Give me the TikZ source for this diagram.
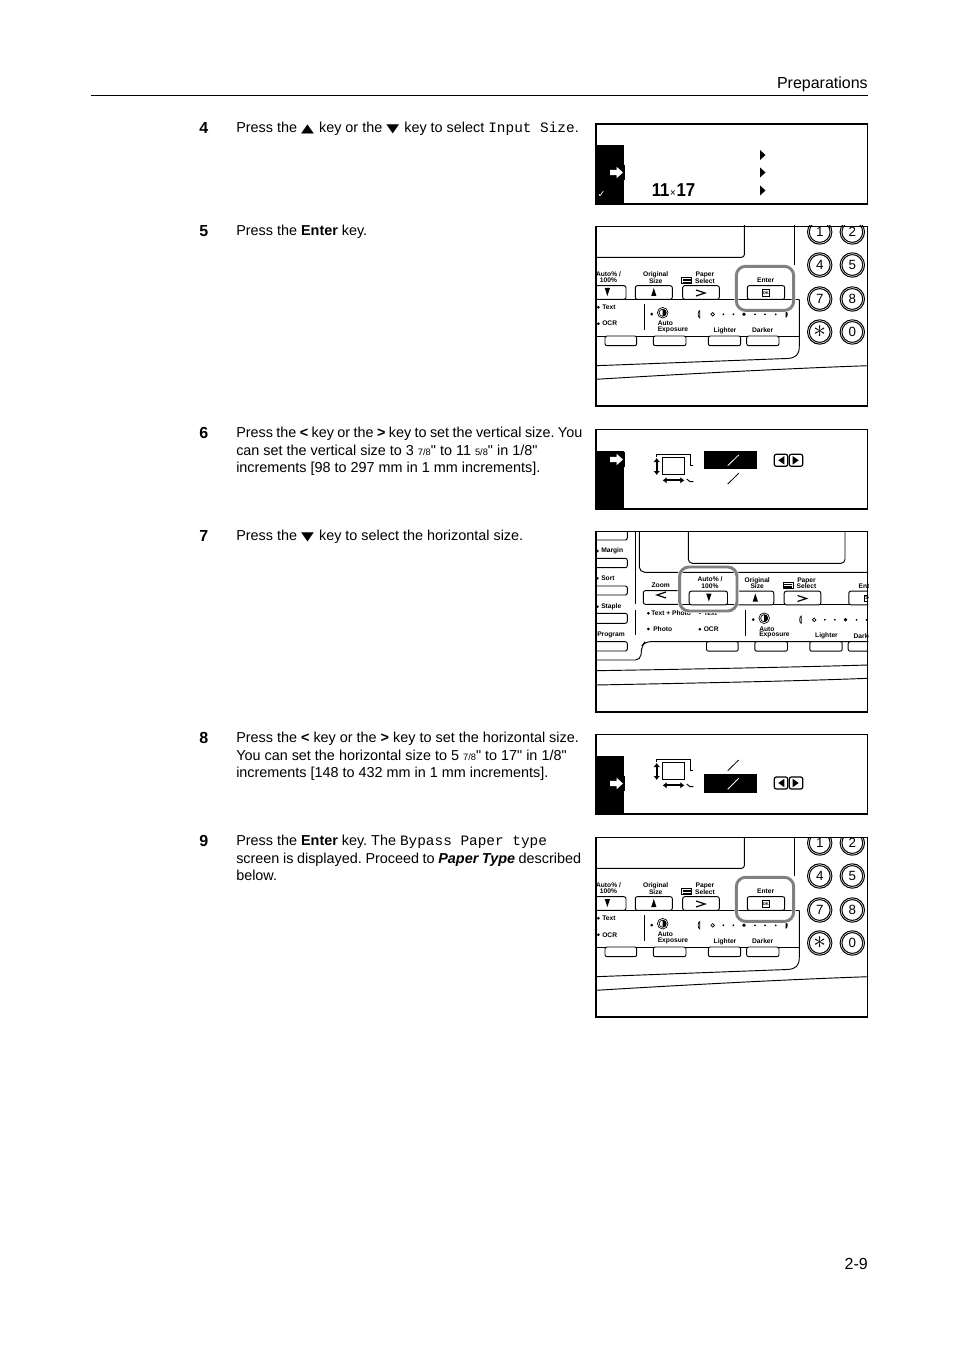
\documentclass[tikz,border=0pt]{standalone}
\usepackage{fontspec}
\usepackage{graphicx}
\setmainfont{Liberation Sans}
\setmonofont{Liberation Mono}
\newfontfamily\symbolfont{DejaVu Sans}
\newfontfamily\inchfont{Liberation Sans}
\newcommand{\upmark}{{\symbolfont\fontsize{9}{13}\selectfont\scalebox{1.4}[1]{▲}\kern.8pt}}
\newcommand{\downmark}{{\symbolfont\fontsize{9}{13}\selectfont\scalebox{1.4}[1]{▼}\kern.8pt}}
\newcommand{\smallfrac}[1]{{\fontsize{7}{13}\selectfont #1}}
\newcommand{\inchmark}{{\inchfont "}}
\frenchspacing

\definecolor{ringgray}{HTML}{808080}

\tikzset{
    steptext/.style={anchor=north west, align=left, inner sep=0pt, font=\fontsize{10.8}{13.2}\selectfont},
    stepnumber/.style={anchor=base west, inner sep=0pt, font=\fontsize{12}{13}\bfseries\selectfont},
    pagetext/.style={anchor=base east, inner sep=0pt, font=\fontsize{12}{13}\selectfont},
    panelframe/.style={draw, line width=1.1pt},
    panelline/.style={line width=.7pt},
    keyshape/.style={draw, fill=white, line width=.7pt, rounded corners=1.5pt},
    tinylabel/.style={inner sep=0pt, align=center, font=\fontsize{5}{5}\bfseries\selectfont},
    digitlabel/.style={inner sep=0pt, font=\fontsize{10}{10}\selectfont},
    ringmark/.style={line width=2.2pt, rounded corners=7pt, preaction={draw=white, line width=3pt}, draw=ringgray},
    %% the row of keys under the message display
    controlrow/.pic={
        \draw[panelline] (560,299.3) -- (799.3,299.3);
        \draw[panelline] (560,336) -- (799.3,336);
        \draw[keyshape] (587.7,285.7) rectangle (626,299.3);
        \draw[keyshape] (635.3,285.7) rectangle (672.3,299.3);
        \draw[keyshape] (682.7,285.7) rectangle (719.3,299.3);
        \draw[keyshape] (747.3,285.7) rectangle (784.7,299.3);
        \foreach \a/\b in {605/636.7, 653.3/686, 708.3/740.7, 746.7/779}
            \draw[keyshape] (\a,336) rectangle (\b,345.7);
        \fill (604.7,288) -- (610,288) -- (607.4,296) -- cycle;
        \fill (651.2,296) -- (656.4,296) -- (653.8,288) -- cycle;
        \draw[line width=.9pt] (696,290) -- (705,293) -- (696,296);
        \draw[line width=.4pt] (762.3,289.3) rectangle (769.3,296);
        \node[inner sep=0pt, font=\fontsize{3}{3}\bfseries\selectfont] (-ok) at (765.8,292.7) {OK};
        \node[tinylabel] (-auto) at (608.5,277) {Auto\% /\\100\%};
        \node[tinylabel] (-size) at (655.7,277.7) {Original\\Size};
        \node[tinylabel] (-paper) at (705,277.7) {Paper\\Select};
        \node[tinylabel] (-enter) at (765.7,280.7) {Enter};
        \draw[line width=.5pt] (681.7,277.3) rectangle (691.7,283.3);
        \foreach \y in {279,280.4,281.8}
            \draw[line width=.4pt] (682.7,\y) -- (690.7,\y);
        \fill (598.3,305.8) -- (599.8,307.3) -- (598.3,308.8) -- (596.8,307.3) -- cycle;
        \fill (598.3,322.2) -- (599.8,323.7) -- (598.3,325.2) -- (596.8,323.7) -- cycle;
        \node[tinylabel, anchor=west] (-text) at (602,307.3) {Text};
        \node[tinylabel, anchor=west] (-ocr) at (602,323.7) {OCR};
        \draw[panelline] (644.3,304) -- (644.3,330);
        \fill (651.7,312.7) -- (653.2,314.2) -- (651.7,315.7) -- (650.2,314.2) -- cycle;
        \draw[line width=.5pt] (662.7,312.7) circle (5.3);
        \draw[line width=.5pt] (662.7,312.7) circle (3.6);
        \fill (662.7,309.1) arc (-90:90:3.6) -- cycle;
        \node[tinylabel, anchor=west] (-expa) at (657.5,323.3) {Auto};
        \node[tinylabel, anchor=west] (-expb) at (657.5,329.7) {Exposure};
        \node[tinylabel] (-lighter) at (725,330.3) {Lighter};
        \node[tinylabel] (-darker) at (762.7,330.3) {Darker};
        %% density scale
        \draw[line width=.5pt] (699.7,310.7) arc (-90:-270:1.6 and 3.6) -- cycle;
        \draw[line width=.5pt] (712.7,314.3) circle (1.8);
        \foreach \x in {723.3,733.3,755,765,775.7}
            \fill (\x,314.3) circle (1);
        \fill (744,314.3) circle (1.9);
        \fill (785.5,310.7) arc (-90:90:2.2 and 3.6) -- cycle;
    },
    keypad/.pic={
        \draw[panelline, rounded corners=2pt] (560,257.3) -- (744.3,257.3) -- (744.3,220);
        \draw[panelline] (794,220) -- (794,265);
        \draw[panelline] (799.3,299.3) -- (799.3,346) .. controls (799.3,355) and (796,358) .. (787,358.5) -- (596,365.7);
        \draw[panelline] (596,379.3) .. controls (700,373) and (800,368) .. (868,365.7);
        \foreach \x/\y/\n in {819.7/232/1, 852.3/232/2, 819.7/265/4, 852.3/265/5, 819.7/299/7, 852.3/299/8, 852.3/332/0}{
            \draw[line width=.75pt] (\x,\y) circle (12.2);
            \draw[line width=.75pt] (\x,\y) circle (10.4);
            \node[digitlabel] (-key\n) at (\x,\y) {\n};
        }
        \draw[line width=.75pt] (819.7,332) circle (12.2);
        \draw[line width=.75pt] (819.7,332) circle (10.4);
        \node[digitlabel] (-keystar) at (819.7,332) {\scalebox{1.9}{$\ast$}};
    },
    %% white arrow on the black strip
    modearrow/.pic={
        \fill (8,-7.5) rectangle (9,7.5);
        \fill[white] (-6,-2.6) -- (0.5,-2.6) -- (0.5,-5.8) -- (7,0) -- (0.5,5.8) -- (0.5,2.6) -- (-6,2.6) -- cycle;
    },
    originalicon/.pic={
        \draw[line width=.6pt] (656.7,456.5) -- (656.7,454.3) -- (690,454.3) -- (690,465.7) -- (693.3,465.7);
        \draw[line width=1.1pt] (662.7,457.7) rectangle (684.3,474.3);
        \draw[line width=1.5pt, {Latex[length=3pt,width=5pt]}-{Latex[length=3pt,width=5pt]}] (656.7,458) -- (656.7,475);
        \draw[line width=1.5pt, {Latex[length=3pt,width=5pt]}-{Latex[length=3pt,width=5pt]}] (662.7,480.3) -- (684.3,480.3);
        \draw[line width=.7pt] (686.7,479) -- (690,481.7) -- (693.3,481.7);
    },
    arrowpair/.pic={
        \draw[line width=.9pt, rounded corners=1.5pt] (0,0) rectangle (13.4,12);
        \draw[line width=.9pt, rounded corners=1.5pt] (15,0) rectangle (28.4,12);
        \fill (4,6) -- (10,1.8) -- (10,10.2) -- cycle;
        \fill (24.4,6) -- (18.4,1.8) -- (18.4,10.2) -- cycle;
    }
}
\usetikzlibrary{arrows.meta}

\begin{document}
\begin{tikzpicture}[x=.75pt, y=-.75pt]

\useasboundingbox (0,0) rectangle (954,1351);

%% page head
\node[pagetext] (head) at (868,89) {Preparations};
\coordinate (ruleleft) at (91,95.5);
\coordinate (ruleright) at (868,95.5);
\draw[line width=.7pt] (ruleleft) -- (ruleright);
\node[pagetext] (folio) at (868,1269) {2-9};

%% step numbers
\foreach \n/\y in {4/133.5, 5/236.5, 6/438.5, 7/541.5, 8/743.5, 9/846.5}
    \node[stepnumber] (num\n) at (199,\y) {\n};

%% step texts
\node[steptext] (step4) at (236,120) {\strut Press the \upmark{} key or the \downmark{} key to select \texttt{Input Size}.};
\node[steptext] (step5) at (236,223) {\strut Press the \textbf{Enter} key.};
\node[steptext] (step6) at (236,425) {\strut{\spaceskip=.235em Press the \textbf{<} key or the \textbf{>} key to set the vertical size. You}\\
    \strut can set the vertical size to 3 \smallfrac{7/8}\inchmark{} to 11 \smallfrac{5/8}\inchmark{} in 1/8\inchmark\\
    \strut increments [98 to 297 mm in 1 mm increments].};
\node[steptext] (step7) at (236,528) {\strut Press the \downmark{} key to select the horizontal size.};
\node[steptext] (step8) at (236,730) {\strut Press the \textbf{<} key or the \textbf{>} key to set the horizontal size.\\
    \strut You can set the horizontal size to 5 \smallfrac{7/8}\inchmark{} to 17\inchmark{} in 1/8\inchmark\\
    \strut increments [148 to 432 mm in 1 mm increments].};
\node[steptext] (step9) at (236,833) {\strut Press the \textbf{Enter} key. The \texttt{Bypass Paper type}\\
    \strut{\spaceskip=.25em screen is displayed. Proceed to \textbf{\textit{Paper Type}} described}\\
    \strut below.};

%% display of step 4
\fill (596.5,145) rectangle (624,204);
\pic at (616,172.5) {modearrow};
\foreach \y in {155,172.5,190.5}
    \fill (760,\y-5) -- (765.5,\y) -- (760,\y+5) -- cycle;
\node[inner sep=0pt, font=\fontsize{14}{14}\bfseries\selectfont] (inputsize) at (673.5,190.5) {\scalebox{.9}[1]{11\kern.6pt{\fontsize{8}{8}\mdseries\selectfont ×}\kern.6pt17}};
\node[inner sep=0pt, text=white, font=\fontsize{7}{7}\selectfont] (checkmark) at (601.5,194.5) {\symbolfont ✓};
\draw[panelframe] (596,124) rectangle (867.5,204);

%% panel of step 5
\begin{scope}
\clip (596,226) rectangle (868,406);
\pic (rowfive) at (0,0) {controlrow};
\pic (padfive) at (0,0) {keypad};
\end{scope}
\draw[ringmark] (736.3,266.3) rectangle (793.7,310.4);
\draw[panelframe] (596,226.5) rectangle (867.5,406);

%% display of step 6
\fill (596.5,451) rectangle (624,509);
\pic at (616,459.5) {modearrow};
\pic at (0,0) {originalicon};
\fill (704,451) rectangle (757,469);
\coordinate (slashaa) at (727.7,465.7);
\coordinate (slashab) at (738.7,455);
\coordinate (slashba) at (727.7,484);
\coordinate (slashbb) at (738.7,473.3);
\draw[white, line width=.6pt] (slashaa) -- (slashab);
\draw[line width=.6pt] (slashba) -- (slashbb);
\pic at (774.3,454.3) {arrowpair};
\draw[panelframe] (596,429.5) rectangle (867.5,509);

%% panel of step 7
\begin{scope}
\clip (596,531) rectangle (868,712);
\pic (rowseven) at (101.5,305.5) {controlrow};
\foreach \a/\b in {520/540, 558.3/567.7, 586/595, 613.3/623.3, 641.7/651}
    \draw[keyshape] (570,\a) rectangle (627.3,\b);
\draw[panelline, rounded corners=4pt] (639.3,525) -- (639.3,572.3) -- (880,572.3);
\draw[panelline, rounded corners=3pt] (688.3,525) -- (688.3,563.3) -- (845,563.3) -- (845,525);
\draw[panelline] (635,525) -- (635,604.3);
\draw[panelline] (635,610) -- (635,635);
\draw[panelline, rounded corners=4pt] (880,641.7) -- (645,641.7) -- (641.7,646) -- (640.7,660) -- (590,660);
\draw[panelline] (596,670.7) .. controls (700,669) and (800,667) .. (868,665);
\draw[panelline] (596,685) .. controls (700,683) and (800,681) .. (868,678.3);
\draw[keyshape] (643.3,590.7) rectangle (680,604.3);
\draw[line width=.9pt] (666,592) -- (657,595) -- (666,598);
\node[tinylabel] (zoomlabel) at (660.7,585.7) {Zoom};
\node[tinylabel, anchor=west] (margin) at (601,551) {Margin};
\node[tinylabel, anchor=west] (sort) at (601,578.3) {Sort};
\node[tinylabel, anchor=west] (staple) at (601,606.7) {Staple};
\node[tinylabel] (program) at (611,635) {Program};
\foreach \y in {551,578.3,606.7}
    \fill (597.5,\y-1.3) -- (598.8,\y) -- (597.5,\y+1.3) -- (596.2,\y) -- cycle;
\node[tinylabel, anchor=west] (textphoto) at (651,613.3) {Text + Photo};
\node[tinylabel, anchor=west] (photo) at (653,629) {Photo};
\fill (648.3,611.8) -- (649.8,613.3) -- (648.3,614.8) -- (646.8,613.3) -- cycle;
\fill (648.3,627.5) -- (649.8,629) -- (648.3,630.5) -- (646.8,629) -- cycle;
\end{scope}
\draw[ringmark] (679.6,567) rectangle (737,611);
\draw[panelframe] (596,531.5) rectangle (867.5,712);

%% display of step 8
\fill (596.5,756) rectangle (624,814);
\pic at (616,783.5) {modearrow};
\pic at (0,305) {originalicon};
\fill (704,774) rectangle (757,792.7);
\coordinate (slashca) at (727.7,770.7);
\coordinate (slashcb) at (738.7,760);
\coordinate (slashda) at (727.7,789.3);
\coordinate (slashdb) at (738.7,778.3);
\draw[line width=.6pt] (slashca) -- (slashcb);
\draw[white, line width=.6pt] (slashda) -- (slashdb);
\pic at (774.3,777) {arrowpair};
\draw[panelframe] (596,734.7) rectangle (867.5,814);

%% panel of step 9
\begin{scope}
\clip (596,837) rectangle (868,1017);
\pic (rownine) at (0,611) {controlrow};
\pic (padnine) at (0,611) {keypad};
\end{scope}
\draw[ringmark] (736.3,877.3) rectangle (793.7,921.4);
\draw[panelframe] (596,837.5) rectangle (867.5,1017);

\end{tikzpicture}
\end{document}
